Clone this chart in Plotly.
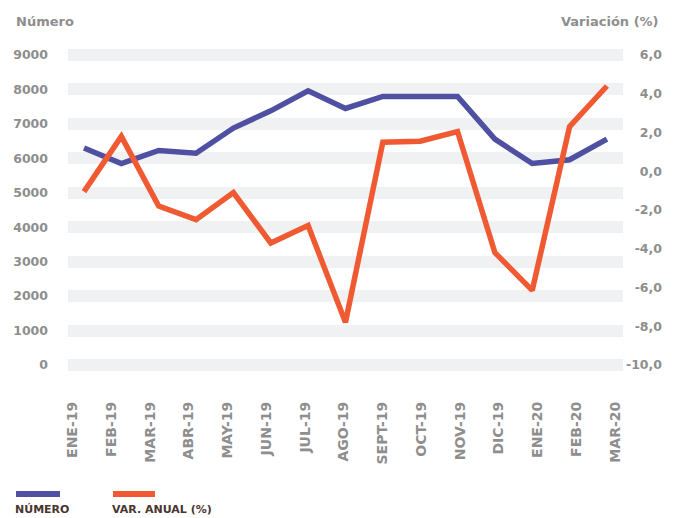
import plotly.graph_objects as go

months = ["ENE-19", "FEB-19", "MAR-19", "ABR-19", "MAY-19", "JUN-19", "JUL-19",
          "AGO-19", "SEPT-19", "OCT-19", "NOV-19", "DIC-19", "ENE-20", "FEB-20", "MAR-20"]
numero = [6300, 5850, 6230, 6150, 6880, 7380, 7960, 7450, 7800, 7800, 7800, 6560, 5850, 5960, 6560]
var_anual = [-1.05, 1.8, -1.8, -2.5, -1.1, -3.7, -2.8, -7.8, 1.5, 1.55, 2.05, -4.2, -6.15, 2.3, 4.4]

left_ticks = [0, 1000, 2000, 3000, 4000, 5000, 6000, 7000, 8000, 9000]
right_ticks = [-10, -8, -6, -4, -2, 0, 2, 4, 6]
right_ticktext = ["-10,0", "-8,0", "-6,0", "-4,0", "-2,0", "0,0", "2,0", "4,0", "6,0"]

BLUE = "#5050a2"
ORANGE = "#f05a32"
GRAY = "#8e8e8e"
DARK = "#4a3530"
FONT = "DejaVu Sans"

W, H = 676, 518
L, R_EDGE, T, B = 68, 665, 40, 395
PLOT_RIGHT = 623
dom_r = (PLOT_RIGHT - L) / (R_EDGE - L)

fig = go.Figure()
fig.add_trace(go.Scatter(x=months, y=numero, mode="lines", name="NÚMERO",
                         line=dict(color=BLUE, width=5.5), xaxis="x", yaxis="y"))
fig.add_trace(go.Scatter(x=months, y=var_anual, mode="lines", name="VAR. ANUAL (%)",
                         line=dict(color=ORANGE, width=5.5), xaxis="x", yaxis="y2"))

tickfont = dict(family=FONT, size=12.5, color=GRAY, weight="bold")

fig.update_layout(
    width=W, height=H,
    margin=dict(l=L, r=W - R_EDGE, t=T, b=H - B, pad=0),
    paper_bgcolor="white", plot_bgcolor="white",
    showlegend=False,
    xaxis=dict(type="category", domain=[0, dom_r], range=[-0.428, 14.43],
               showticklabels=False, showgrid=False, zeroline=False, showline=False,
               ticks=""),
    xaxis2=dict(type="linear", overlaying="x", anchor="y", side="bottom", domain=[0, dom_r],
                range=[-0.121, 14.205], tickmode="array",
                tickvals=list(range(len(months))), ticktext=months,
                tickangle=-90, ticks="", showgrid=False, zeroline=False, showline=False,
                ticklabelstandoff=3,
                tickfont=dict(family=FONT, size=14, color=GRAY, weight="bold")),
    yaxis=dict(range=[-871, 9437], tickmode="array", tickvals=left_ticks,
               ticktext=[str(v) for v in left_ticks],
               showgrid=True, gridcolor="#f0f1f3", gridwidth=12,
               zeroline=False, showline=False, ticks="", ticklabelstandoff=19,
               tickfont=tickfont),
    yaxis2=dict(range=[-11.548, 6.774], tickmode="array", tickvals=right_ticks,
                ticktext=right_ticktext, overlaying="y", anchor="free", position=1,
                side="right", ticklabelposition="inside", showgrid=False,
                zeroline=False, showline=False, ticks="", tickfont=tickfont),
)

# invisible helper trace so the label axis is drawn
fig.add_trace(go.Scatter(x=[0], y=[0], xaxis="x2", yaxis="y", mode="markers",
                         marker=dict(opacity=0), hoverinfo="skip"))

fig.add_annotation(text="Número", xref="paper", yref="paper",
                   x=(14 - L) / (R_EDGE - L), y=(B - 21) / (B - T),
                   xanchor="left", yanchor="middle", showarrow=False,
                   font=dict(family=FONT, size=13, color=GRAY, weight="bold"))
fig.add_annotation(text="Variación (%)", xref="paper", yref="paper",
                   x=(661 - L) / (R_EDGE - L), y=(B - 21) / (B - T),
                   xanchor="right", yanchor="middle", showarrow=False,
                   font=dict(family=FONT, size=13, color=GRAY, weight="bold"))


def px_x(v):
    return (v - L) / (R_EDGE - L)


def px_y(v):
    return (B - v) / (B - T)


legend_items = [("NÚMERO", BLUE, 16, 60), ("VAR. ANUAL (%)", ORANGE, 113, 155)]
for label, color, x0, x1 in legend_items:
    fig.add_shape(type="rect", xref="paper", yref="paper",
                  x0=px_x(x0), x1=px_x(x1), y0=px_y(497), y1=px_y(491),
                  fillcolor=color, line=dict(width=0))
    fig.add_annotation(text=label, xref="paper", yref="paper",
                       x=px_x(x0 - 3), y=px_y(509), xanchor="left", yanchor="middle",
                       showarrow=False,
                       font=dict(family=FONT, size=11, color=DARK, weight="bold"))

fig.write_html("out.html", config={"displayModeBar": False},
               post_script="document.body.style.margin='0px';")
